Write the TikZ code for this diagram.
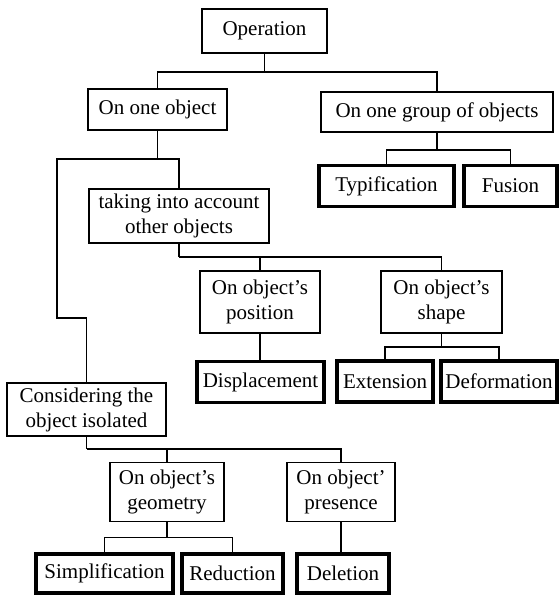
\documentclass[tikz,border=0pt]{standalone}
\usepackage{fontspec}
\setmainfont{Liberation Serif}
\usetikzlibrary{positioning}

\begin{document}
\begin{tikzpicture}[x=1pt, y=1pt,
		op/.style = {rectangle, draw, line width=1.4pt, inner sep=0pt, outer sep=0pt, align=center, font=\fontsize{21}{25}\selectfont},
		leaf/.style = {op, line width=3.3pt, minimum height=41pt},
		link/.style = {draw, line width=1.4pt}
		]
		\useasboundingbox (0,0) rectangle (559,-595);
		
		% Operations
		\node[op, minimum width=125pt, minimum height=44pt] (Operation) at (264.5,-31) {Operation};
		\node[op, minimum width=139pt, minimum height=41pt] (OneObject) at (157.5,-109.5) {On one object};
		\node[op, minimum width=232pt, minimum height=40pt] (Group) at (437,-112) {On one group of objects};
		\node[leaf, minimum width=135pt] (Typification) at (386.5,-186) {Typification};
		\node[leaf, minimum width=93pt, right=10pt of Typification] (Fusion) {Fusion};
		\node[op, minimum width=180pt, minimum height=54pt] (Taking) at (179,-216) {taking into account\\other objects};
		\node[op, minimum width=120pt, minimum height=62pt] (Position) at (260,-302) {On object's\\position};
		\node[op, minimum width=121pt, minimum height=62pt] (Shape) at (441.5,-302) {On object's\\shape};
		\node[leaf, minimum width=127pt] (Displacement) at (260.5,-382) {Displacement};
		\node[leaf, minimum width=96pt] (Extension) at (385,-381.5) {Extension};
		\node[leaf, minimum width=116pt, right=8pt of Extension] (Deformation) {Deformation};
		\node[op, minimum width=159pt, minimum height=53pt] (Considering) at (86.5,-409.5) {Considering the\\object isolated};
		\node[op, minimum width=114pt, minimum height=59pt] (Geometry) at (167,-492) {On object's\\geometry};
		\node[op, minimum width=108pt, minimum height=59pt] (Presence) at (341,-492) {On object'\\presence};
		\node[leaf, minimum width=137pt, minimum height=39pt] (Simplification) at (104.5,-573.5) {Simplification};
		\node[leaf, minimum width=101pt, minimum height=39pt, right=9pt of Simplification] (Reduction) {Reduction};
		\node[leaf, minimum width=92pt, minimum height=39pt] (Deletion) at (343,-573.5) {Deletion};
		
		% Links
		\draw[link] (Operation.south) -- ++(0,-19) coordinate (opbus);
		\draw[link] (OneObject.north) |- (opbus) -| (Group.north);
		\draw[link] (Group.south) -- ++(0,-18) coordinate (groupbus);
		\draw[link] (Typification.north) |- (groupbus) -| (Fusion.north);
		\draw[link] (OneObject.south) -- ++(0,-29) coordinate (onebus);
		\draw[link] (onebus) -| (Taking.north);
		\draw[link] (onebus) -- ++(-100.5,0) -- ++(0,-159) -| (Considering.north);
		\draw[link] (Taking.south) -- ++(0,-14) coordinate (takebus);
		\draw[link] (takebus) -| (Shape.north);
		\draw[link] (Position.north) -- (Position.north |- takebus);
		\draw[link] (Position.south) -- (Position.south |- Displacement.north);
		\draw[link] (Shape.south) -- ++(0,-14) coordinate (shapebus);
		\draw[link] (Extension.north) |- (shapebus) -| (Deformation.north);
		\draw[link] (Considering.south) -- ++(0,-13) coordinate (isobus);
		\draw[link] (isobus) -| (Presence.north);
		\draw[link] (Geometry.north) -- (Geometry.north |- isobus);
		\draw[link] (Geometry.south) -- ++(0,-16) coordinate (geobus);
		\draw[link] (Simplification.north) |- (geobus) -| (Reduction.north);
		\draw[link] (Presence.south) -- (Presence.south |- Deletion.north);
		
	\end{tikzpicture}
\end{document}
